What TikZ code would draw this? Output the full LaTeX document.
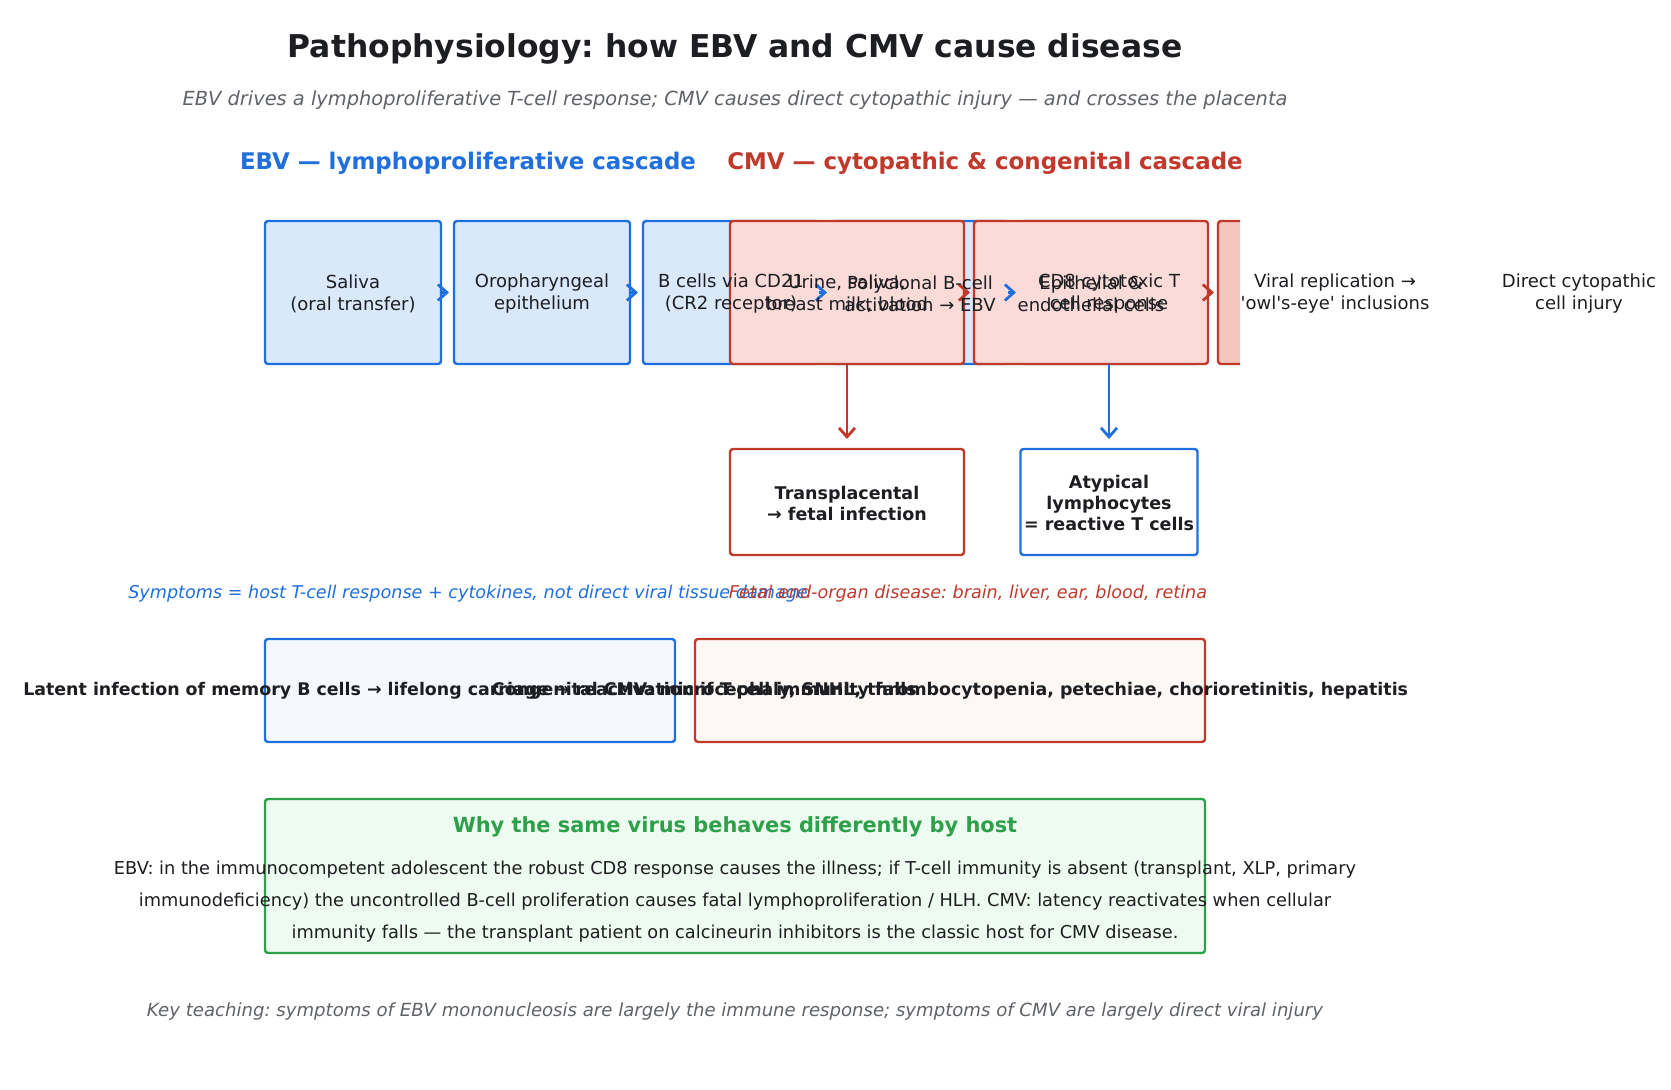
\documentclass[tikz,border=0pt]{standalone}
\usepackage{fontspec}
\setmainfont{DejaVu Sans}
\usetikzlibrary{arrows.meta}
\frenchspacing
\definecolor{ebvblue}{HTML}{1F6FDE}
\definecolor{cmvred}{HTML}{C0392B}
\definecolor{grn}{HTML}{2EA04A}
\definecolor{ebvfill}{HTML}{DAE8FC}
\definecolor{cmvfill}{HTML}{FADBD8}
\definecolor{cmvfillb}{HTML}{F5C6C0}
\definecolor{bfill}{HTML}{F5F9FF}
\definecolor{rfill}{HTML}{FDF7F5}
\definecolor{gfill}{HTML}{EEFBF0}
\definecolor{ink}{HTML}{1C1E21}
\definecolor{graytxt}{HTML}{5F6368}
\tikzset{
  box/.style={rectangle, rounded corners=1.5pt, line width=1.2pt, inner sep=0pt, outer sep=0pt},
  ebvbox/.style={box, draw=ebvblue, fill=ebvfill, minimum width=88pt, minimum height=71.5pt},
  cmvbox/.style={box, draw=cmvred, fill=cmvfill, minimum width=117pt, minimum height=71.5pt},
  boxtxt/.style={align=center, text=ink, font=\fontsize{9}{11}\selectfont, inner sep=0pt},
  boldtxt/.style={align=center, text=ink, font=\fontsize{8.75}{10.5}\selectfont\bfseries, inner sep=0pt},
  ebvarr/.style={draw=ebvblue, line width=1.4pt, -{Straight Barb[length=4.5pt,width=8pt]}},
  cmvarr/.style={draw=cmvred, line width=1.4pt, -{Straight Barb[length=4.5pt,width=8pt]}},
}
\begin{document}
\begin{tikzpicture}[x=0.5pt,y=-0.5pt]
\useasboundingbox[fill=white] (0,0) rectangle (1671,1090);

% EBV boxes
\node[ebvbox] (e1) at (353,292.5) {};
\node[ebvbox] (e2) at (542,292.5) {};
\node[ebvbox] (e3) at (731,292.5) {};
\node[ebvbox] (e4) at (920,292.5) {};
\node[ebvbox] (e5) at (1109,292.5) {};
% CMV boxes
\node[cmvbox] (c1) at (847,292.5) {};
\node[cmvbox] (c2) at (1091,292.5) {};
\begin{scope}
\clip (0,0) rectangle (1240,1090);
\node[cmvbox, fill=cmvfillb] (c3) at (1335,292.5) {};
\end{scope}
\coordinate (c4) at (1579,292.5);

% lower boxes
\node[box, draw=cmvred, fill=white, minimum width=117pt, minimum height=53pt] (tp) at (847,502) {};
\node[box, draw=ebvblue, fill=white, minimum width=88.5pt, minimum height=53pt] (at) at (1109,502) {};
\node[box, draw=ebvblue, fill=bfill, minimum width=205pt, minimum height=51.5pt] (bl) at (470,690.5) {};
\node[box, draw=cmvred, fill=rfill, minimum width=255pt, minimum height=51.5pt] (br) at (950,690.5) {};
\node[box, draw=grn, fill=gfill, minimum width=470pt, minimum height=77pt] (gb) at (735,876) {};

% arrows
\draw[ebvarr, shorten >=2.5pt] (e1.east) -- (e2.west);
\draw[ebvarr, shorten >=2.5pt] (e2.east) -- (e3.west);
\draw[ebvarr, shorten >=2.5pt] (e3.east) -- (e4.west);
\draw[ebvarr, shorten >=2.5pt] (e4.east) -- (e5.west);
\draw[cmvarr, shorten >=2pt] (c1.east) -- (c2.west);
\draw[cmvarr, shorten >=2pt] (c2.east) -- (c3.west);
\draw[cmvarr, shorten >=5pt] (c1.south) -- (tp.north);
\draw[ebvarr, shorten >=5pt] (e5.south) -- (at.north);

% texts
\node[font=\fontsize{15.7}{18}\selectfont\bfseries, text=ink] (title) at (735,49) {Pathophysiology: how EBV and CMV cause disease};
\node[font=\fontsize{9.7}{11}\selectfont\itshape, text=graytxt] (sub) at (735,100.5) {EBV drives a lymphoproliferative T-cell response; CMV causes direct cytopathic injury — and crosses the placenta};
\node[font=\fontsize{11.45}{13}\selectfont\bfseries, text=ebvblue] (ebvh) at (468,163.5) {EBV — lymphoproliferative cascade};
\node[font=\fontsize{11.45}{13}\selectfont\bfseries, text=cmvred] (cmvh) at (985,163.5) {CMV — cytopathic \& congenital cascade};

\node[boxtxt] (te1) at (353,294) {Saliva\\(oral transfer)};
\node[boxtxt] (te2) at (542,294) {Oropharyngeal\\epithelium};
\node[boxtxt] (te3) at (731,294) {B cells via CD21\\(CR2 receptor)};
\node[boxtxt] (te4) at (920,294) {Polyclonal B-cell\\activation → EBV};
\node[boxtxt] (te5) at (1109,294) {CD8 cytotoxic T\\cell response};
\node[boxtxt] (tc1) at (847,294) {Urine, saliva,\\breast milk, blood};
\node[boxtxt] (tc2) at (1091,294) {Epithelial \&\\endothelial cells};
\node[boxtxt] (tc3) at (1335,294) {Viral replication →\\\textquotesingle owl\textquotesingle s-eye\textquotesingle{} inclusions};
\node[boxtxt] (tc4) at (1579,294) {Direct cytopathic\\cell injury};

\node[boldtxt] (ttp) at (847,503) {Transplacental\\→ fetal infection};
\node[boldtxt] (tat) at (1109,503) {Atypical\\lymphocytes\\= reactive T cells};

\node[font=\fontsize{8.8}{10}\selectfont\itshape, text=ebvblue] (syme) at (468,593.5) {Symptoms = host T-cell response + cytokines, not direct viral tissue damage};
\node[font=\fontsize{8.8}{10}\selectfont\itshape, text=cmvred] (symc) at (968,593.5) {Fetal end-organ disease: brain, liver, ear, blood, retina};

\node[boldtxt, font=\fontsize{8.7}{10}\selectfont\bfseries] (tbl) at (470,691) {Latent infection of memory B cells → lifelong carriage → reactivation if T-cell immunity falls};
\node[boldtxt, font=\fontsize{8.7}{10}\selectfont\bfseries] (tbr) at (950,691) {Congenital CMV: microcephaly, SNHL, thrombocytopenia, petechiae, chorioretinitis, hepatitis};

\node[font=\fontsize{10.45}{12}\selectfont\bfseries, text=grn] (gt) at (735,827) {Why the same virus behaves differently by host};
\node[align=center, text=ink, font=\fontsize{8.88}{16}\selectfont] (gbody) at (735,901.5) {EBV: in the immunocompetent adolescent the robust CD8 response causes the illness; if T-cell immunity is absent (transplant, XLP, primary\\immunodeficiency) the uncontrolled B-cell proliferation causes fatal lymphoproliferation / HLH. CMV: latency reactivates when cellular\\immunity falls — the transplant patient on calcineurin inhibitors is the classic host for CMV disease.};

\node[font=\fontsize{9.05}{11}\selectfont\itshape, text=graytxt] (foot) at (735,1012) {Key teaching: symptoms of EBV mononucleosis are largely the immune response; symptoms of CMV are largely direct viral injury};
\end{tikzpicture}
\end{document}
